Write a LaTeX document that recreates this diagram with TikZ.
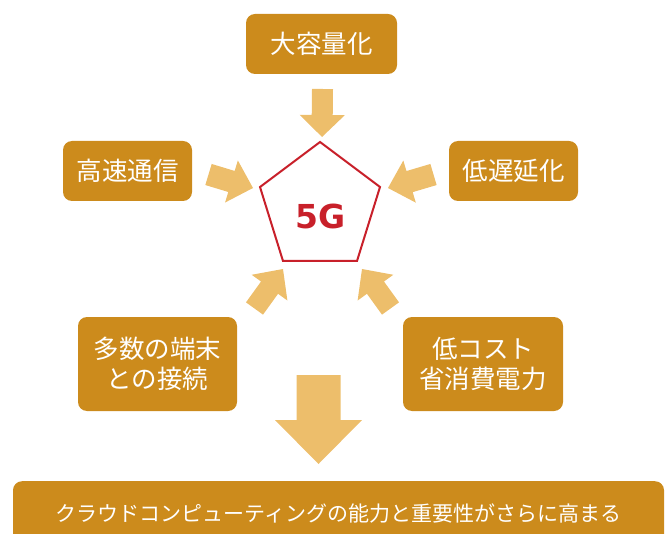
\documentclass[tikz,border=0pt]{standalone}
\usepackage{fontspec}
\setmainfont{Noto Sans CJK JP}
\newfontfamily\gfont{DejaVu Sans}
\usetikzlibrary{calc}
\definecolor{boxgold}{HTML}{CC8B1C}
\definecolor{arrowgold}{HTML}{EDBE6B}
\definecolor{fivegred}{HTML}{C8202A}
\tikzset{
  goldbox/.style={fill=boxgold, rounded corners=9pt, text=white, align=center,
    inner sep=0pt, font=\fontsize{25.5}{30}\selectfont},
  arrowfill/.style={fill=arrowgold, draw=none},
}
% block arrow: #1 tail, #2 tip, #3 half shaft width, #4 half head width, #5 head length
\newcommand\blockarrow[5]{%
  \coordinate (hb) at ($(#2)!#5!(#1)$);
  \fill[arrowfill] ($(#1)!#3!90:(#2)$) -- ($(hb)!#3!-90:(#1)$) -- ($(hb)!#4!-90:(#1)$)
     -- (#2) -- ($(hb)!#4!90:(#1)$) -- ($(hb)!#3!90:(#1)$) -- ($(#1)!#3!-90:(#2)$) -- cycle;
}
\begin{document}
\begin{tikzpicture}[x=1pt,y=-1pt]
\useasboundingbox (0,0) rectangle (671,534);
\clip (0,0) rectangle (671,534);
% boxes
\node[goldbox, minimum width=151pt, minimum height=60pt] (cap) at (321.5,44) {大容量化};
\node[goldbox, minimum width=129pt, minimum height=60pt] (speed) at (127.5,171) {高速通信};
\node[goldbox, minimum width=129pt, minimum height=60pt] (lat) at (513.5,171) {低遅延化};
\node[goldbox, minimum width=159pt, minimum height=94pt] (many) at (157.5,364) {多数の端末\\との接続};
\node[goldbox, minimum width=160pt, minimum height=94pt] (cost) at (483,364) {低コスト\\省消費電力};
\node[goldbox, minimum width=651pt, minimum height=70pt, anchor=north,
      font=\fontsize{21}{25}\selectfont, text depth=0pt] (cloud) at (338.5,481) {};
\node[text=white, font=\fontsize{21}{25}\selectfont] (cloudtext) at (338.5,513)
      {クラウドコンピューティングの能力と重要性がさらに高まる};
% pentagon
\coordinate (p1) at (320,142);
\coordinate (p2) at (380,187);
\coordinate (p3) at (357,261);
\coordinate (p4) at (283,261);
\coordinate (p5) at (260,187);
\draw[fivegred, line width=2pt, line join=miter] (p1) -- (p2) -- (p3) -- (p4) -- (p5) -- cycle;
\node[text=fivegred, font=\gfont\bfseries\fontsize{33}{36}\selectfont] (fiveg) at (321,216) {5G};
% arrows
\coordinate (ta) at (322.5,89);   \coordinate (tb) at (322,137);
\coordinate (la) at (208.5,174.5); \coordinate (lb) at (253,188);
\coordinate (ra) at (433.5,174.5); \coordinate (rb) at (388,188);
\coordinate (bla) at (254.5,308.5); \coordinate (blb) at (283,269);
\coordinate (bra) at (390.5,308.5); \coordinate (brb) at (362,269);
\coordinate (ba) at (318.5,375); \coordinate (bb) at (318.5,464);
\blockarrow{ta}{tb}{10.5pt}{22.5pt}{22pt}
\blockarrow{la}{lb}{11pt}{22pt}{22.5pt}
\blockarrow{ra}{rb}{11pt}{22pt}{22.5pt}
\blockarrow{bla}{blb}{10.5pt}{22pt}{23pt}
\blockarrow{bra}{brb}{10.5pt}{22pt}{23pt}
\blockarrow{ba}{bb}{22pt}{43.5pt}{44pt}
\end{tikzpicture}
\end{document}
